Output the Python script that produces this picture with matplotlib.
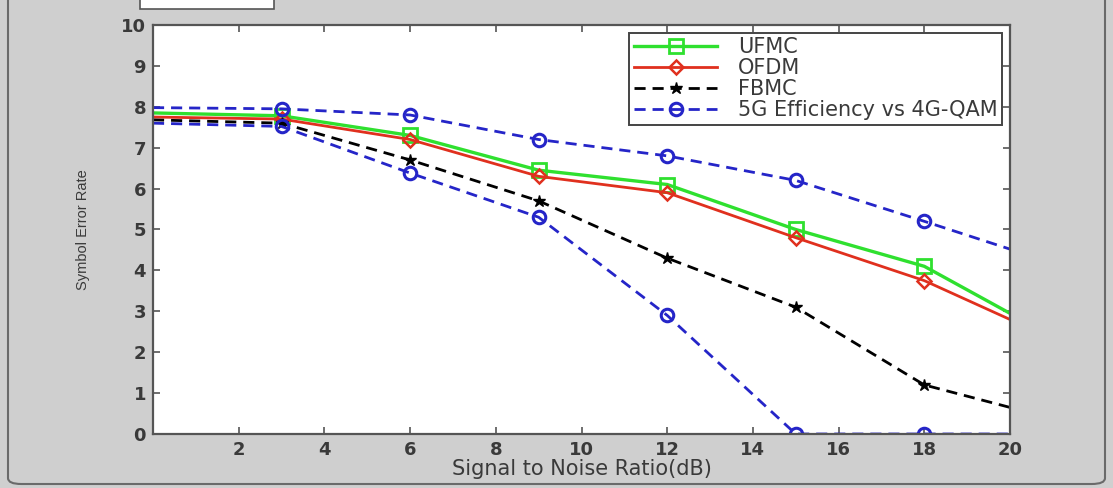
import matplotlib.pyplot as plt
from matplotlib.patches import FancyBboxPatch, Rectangle

# SNR points (dB) and symbol error rate values
snr = [0, 3, 6, 9, 12, 15, 18, 20]
ufmc = [7.85, 7.78, 7.3, 6.45, 6.1, 5.0, 4.1, 2.95]
ofdm = [7.75, 7.7, 7.2, 6.3, 5.9, 4.8, 3.75, 2.8]
fbmc = [7.68, 7.6, 6.7, 5.7, 4.3, 3.1, 1.2, 0.65]
eff_hi = [7.98, 7.95, 7.8, 7.2, 6.8, 6.2, 5.2, 4.52]
eff_lo = [7.6, 7.52, 6.38, 5.3, 2.9, 0.0, 0.0, 0.0]

xticks = [2, 4, 6, 8, 10, 12, 14, 16, 18, 20]
yticks = list(range(0, 11))

bg = '#cfcfcf'
txt = '#3a3a3a'
font = ['DejaVu Sans']

fig = plt.figure(figsize=(11.13, 4.88), dpi=100)
fig.patch.set_facecolor(bg)

# window frame look (behind the axes)
frame = FancyBboxPatch((8 / 1113, 4 / 488), 1097 / 1113, 520 / 488,
                       boxstyle='round,pad=0,rounding_size=0.012',
                       transform=fig.transFigure, facecolor=bg,
                       edgecolor='#6a6a6a', linewidth=1.5, zorder=-10)
fig.patches.append(frame)
fig.patches.append(Rectangle((140 / 1113, 479 / 488), 134 / 1113, 12 / 488,
                             transform=fig.transFigure, facecolor='white',
                             edgecolor='#555555', linewidth=1.2, zorder=-5))

ax = fig.add_axes([153 / 1113, 54 / 488, 857 / 1113, 409 / 488])
ax.set_facecolor('white')

mk = [1, 2, 3, 4, 5, 6]
ax.plot(snr, ufmc, color='#2fe02f', lw=2.4, marker='s', ms=10, mfc='none',
        mew=2, markevery=mk, label='UFMC')
ax.plot(snr, ofdm, color='#e0301e', lw=2, marker='D', ms=7, mfc='none',
        mew=1.8, markevery=mk, label='OFDM')
ax.plot(snr, fbmc, color='black', lw=2, ls='--', dashes=(4, 2.5), marker='*',
        ms=9, markevery=mk, label='FBMC')
ax.plot(snr, eff_hi, color='#2525c8', lw=2, ls='--', dashes=(4, 2.5), marker='o',
        ms=9, mfc='none', mew=2.2, markevery=mk, label='5G Efficiency vs 4G-QAM')
ax.plot(snr, eff_lo, color='#2525c8', lw=2, ls='--', dashes=(4, 2.5), marker='o',
        ms=9, mfc='none', mew=2.2, markevery=mk, label='_nolegend_')

ax.set_xlim(0, 20)
ax.set_ylim(0, 10)
ax.set_xticks(xticks)
ax.set_yticks(yticks)
ax.tick_params(direction='in', length=5, width=1.2, top=True, right=True,
               colors='#555555', labelcolor=txt, labelsize=13, pad=5)
for lab in ax.get_xticklabels() + ax.get_yticklabels():
    lab.set_family(font)
    lab.set_fontweight('bold')
for s in ax.spines.values():
    s.set_color('#555555')
    s.set_linewidth(1.6)

ax.set_xlabel('Signal to Noise Ratio(dB)', fontsize=15, color=txt,
              family=font, labelpad=0)
ax.set_ylabel('Symbol Error Rate', fontsize=10.5, color=txt,
              family=['Liberation Sans'], labelpad=22)

leg = ax.legend(loc='upper right', bbox_to_anchor=(0.991, 0.981),
                borderaxespad=0, fancybox=False, edgecolor='#444444',
                framealpha=1, handlelength=4.0, handletextpad=1.0,
                labelspacing=0.05, borderpad=0.22,
                prop={'family': font, 'size': 15})
leg.get_frame().set_linewidth(1.4)
for t in leg.get_texts():
    t.set_color(txt)

fig.savefig('out.png', dpi=100, facecolor=bg)
